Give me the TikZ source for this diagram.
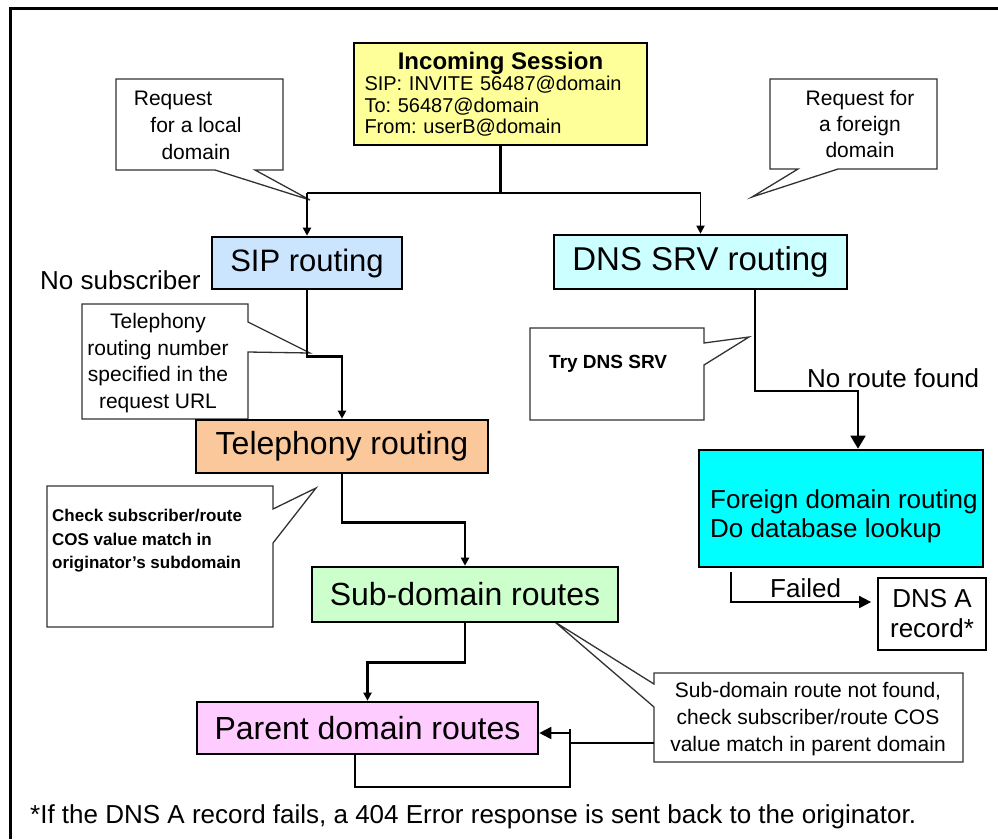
\documentclass[tikz,border=0pt]{standalone}
\usepackage{fontspec}
\setmainfont{Liberation Sans}
\usetikzlibrary{arrows.meta}
\frenchspacing

\definecolor{sessfill}{RGB}{255,255,153}
\definecolor{sipfill}{RGB}{204,229,255}
\definecolor{srvfill}{RGB}{204,255,255}
\definecolor{telfill}{RGB}{250,200,155}
\definecolor{subfill}{RGB}{204,255,204}
\definecolor{parfill}{RGB}{255,204,255}
\definecolor{fgnfill}{RGB}{0,255,255}
\definecolor{noteline}{RGB}{50,50,50}

\newcommand{\fsz}[2]{\fontsize{#1}{#2}\selectfont}

\tikzset{
  routebox/.style={draw, line width=2.6pt, inner sep=0pt, font=\fsz{32}{38}},
  calloutline/.style={draw=noteline, line width=1.3pt, fill=white},
  notetext/.style={align=center, inner sep=0pt, font=\fsz{21}{27}},
  smalltext/.style={align=left, inner sep=0pt, font=\bfseries\fsz{17}{23.5}},
  bigtext/.style={inner sep=0pt, font=\fsz{26}{30}},
  mainline/.style={line width=2.6pt},
  thinline/.style={line width=1.7pt},
  smalltip/.style={-{Triangle[width=8pt,length=8pt]}},
  midtip/.style={-{Triangle[width=12pt,length=12pt]}},
  largetip/.style={-{Triangle[width=15pt,length=13pt]}},
}

\begin{document}
\begin{tikzpicture}[x=1pt, y=-1pt]
  \useasboundingbox (0,0) rectangle (998,839);
  % frame
  \draw[line width=3pt] (10,839) -- (10,8) -- (998,8);

  % callout balloons
  \draw[calloutline] (116,79) -- (283,79) -- (283,170) -- (255,170) -- (310,200) -- (215,170) -- (116,170) -- cycle;
  \draw[calloutline] (770,79) -- (937,79) -- (937,169) -- (838,169) -- (752,197) -- (798,169) -- (770,169) -- cycle;
  \draw[calloutline] (82,304) -- (248,304) -- (248,322) -- (310,353) -- (248,352) -- (248,419) -- (82,419) -- cycle;
  \draw[calloutline] (47,486) -- (273,486) -- (273,509) -- (316,488) -- (273,543) -- (273,627) -- (47,627) -- cycle;
  \draw[calloutline] (530,328) -- (704,328) -- (704,343) -- (749,337) -- (704,365) -- (704,420) -- (530,420) -- cycle;
  \draw[calloutline] (654,673) -- (963,673) -- (963,762) -- (654,762) -- (654,707) -- (555,622) -- (654,684) -- cycle;

  \node[notetext, anchor=north] (locnote) at (196,91) {Request\hspace*{46pt}\\for a local\\domain};
  \node[notetext, anchor=north, font=\fsz{21}{26}] (frnnote) at (860,90) {Request for\\a foreign\\domain};
  \node[notetext, anchor=north, font=\fsz{21}{26.7}] (telnote) at (158,313) {Telephony\\routing number\\specified in the\\request URL};
  \node[smalltext, anchor=north west] (chknote) at (52,509) {Check subscriber/route\\COS value match in\\originator's subdomain};
  \node[smalltext, anchor=north west, font=\bfseries\fsz{19}{23}] (trynote) at (549,355) {Try DNS SRV};
  \node[notetext, anchor=north] (subnote) at (808,682) {Sub-domain route not found,\\check subscriber/route COS\\value match in parent domain};

  % routing boxes
  \node[routebox, fill=sessfill, minimum width=293pt, minimum height=102pt, align=left, text width=272pt, font=\fsz{20}{21.5}] (sess) at (500.5,94)
    {\makebox[272pt]{\fsz{24}{24}\bfseries Incoming Session}\\SIP: INVITE 56487@domain\\To: 56487@domain\\From: userB@domain};
  \node[routebox, fill=sipfill, minimum width=190pt, minimum height=52pt, font=\fsz{31}{36}] (sip) at (307,263) {SIP routing};
  \node[routebox, fill=srvfill, minimum width=293pt, minimum height=54pt, font=\fsz{33}{38}] (srv) at (700.5,262) {DNS SRV routing};
  \node[routebox, fill=telfill, minimum width=292pt, minimum height=53pt] (tel) at (342,446.5) {Telephony routing};
  \node[routebox, fill=subfill, minimum width=306pt, minimum height=55pt] (sub) at (465,594.5) {Sub-domain routes};
  \node[routebox, fill=parfill, minimum width=341pt, minimum height=52pt] (par) at (367.5,728) {Parent domain routes};
  \node[routebox, fill=fgnfill, minimum width=284pt, minimum height=117pt] (fgn) at (841,508.5) {};
  \node[bigtext, align=left, font=\fsz{26}{29}, anchor=north west] (fgnlabel) at (710,489) {Foreign domain routing\\Do database lookup};
  \node[draw, line width=1.7pt, minimum width=108pt, minimum height=72pt, bigtext, align=center] (dnsa) at (932,614) {DNS A\\record*};

  % labels
  \node[bigtext, anchor=base west] (nosub) at (40,289) {No subscriber};
  \node[bigtext, anchor=base west] (noroute) at (807,387) {No route found};
  \node[bigtext, anchor=base west] (failed) at (770,597) {Failed};
  \node[bigtext, anchor=base west] (footnote) at (30,823) {*If the DNS A record fails, a 404 Error response is sent back to the originator.};

  % connectors
  \draw[mainline] (sess.south) -- ++(0,47) coordinate (split);
  \draw[thinline] (sip.north |- split) -- (srv.north |- split);
  \draw[mainline, smalltip] (sip.north |- split) -- (sip.north);
  \draw[thinline, smalltip] (srv.north |- split) -- (srv.north);
  \draw[mainline, smalltip] (sip.south) -- ++(0,66) -| (tel.north);
  \draw[mainline, smalltip] (tel.south) -- ++(0,48) -| (sub.north);
  \draw[mainline, smalltip] (sub.south) -- ++(0,39) -| (par.north);
  \draw[thinline, largetip] ([xshift=54.5pt]srv.south) -- ++(0,101) -| ([xshift=17pt]fgn.north);
  \draw[thinline, midtip] ([xshift=33pt,yshift=-4pt]fgn.south west) |- ([xshift=-6pt,yshift=12pt]dnsa.west);

  % loop back to parent domain
  \coordinate (loopbot) at (570,787);
  \coordinate (looptop) at (570,729);
  \coordinate (parin) at ([yshift=-5pt]par.east);
  \coordinate (subnotel) at (654,743);
  \draw[thinline] ([xshift=-12.5pt]par.south) |- (loopbot) -- (looptop);
  \draw[thinline, midtip] (parin -| looptop) -- (parin);
  \draw[thinline] (subnotel) -- (subnotel -| looptop);
\end{tikzpicture}
\end{document}
